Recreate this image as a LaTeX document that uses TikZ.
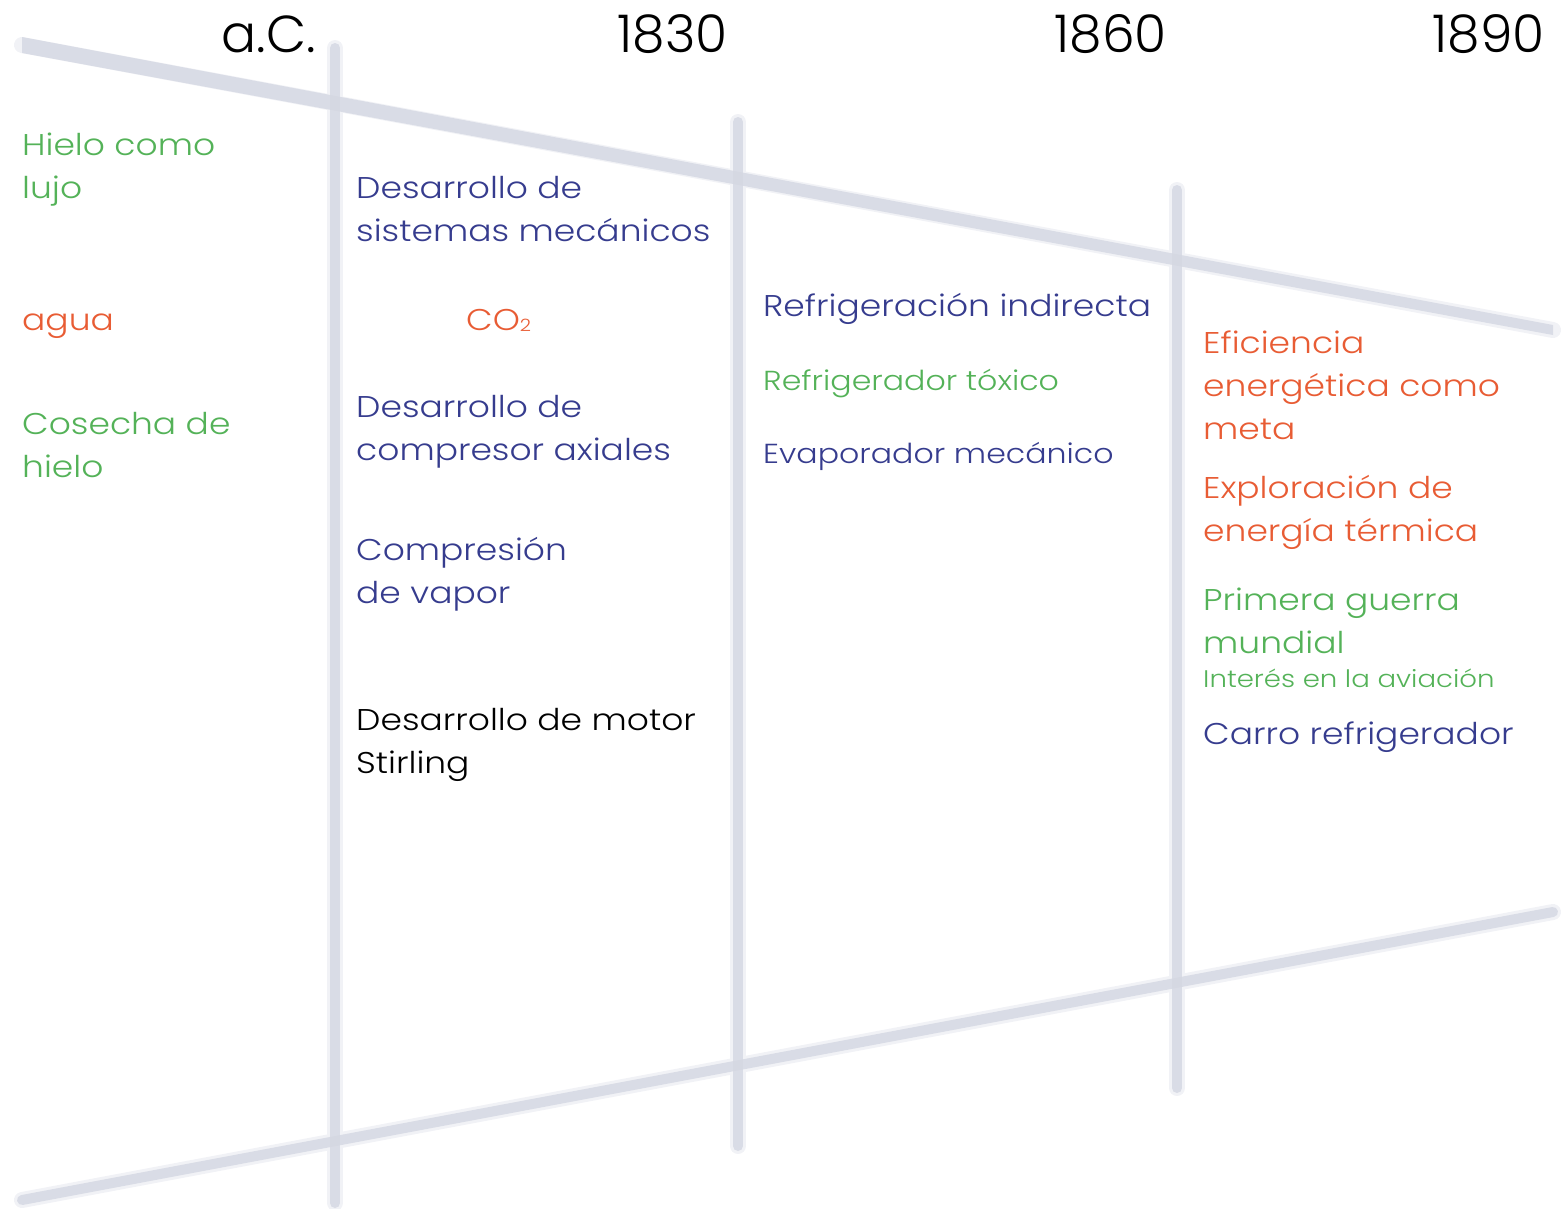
\documentclass[tikz,border=0pt]{standalone}
\usepackage{fontspec}
\setmainfont{Poppins Light}[FakeStretch=1.15]
\newfontfamily\yearfont{Poppins Light}[FakeStretch=1.0]
\definecolor{lgreen}{RGB}{84,178,88}
\definecolor{lorange}{RGB}{232,92,52}
\definecolor{lblue}{RGB}{54,60,142}
\definecolor{lbar}{RGB}{212,215,226}
\definecolor{lhalo}{RGB}{241,242,246}
\tikzset{
  bar/.style={line width=10pt, draw=lbar, opacity=0.8, line cap=round},
  halo/.style={line width=16pt, draw=lhalo, line cap=round},
  taper/.style={fill=lbar, opacity=0.8},
  year/.style={anchor=base east, inner sep=0pt, font=\yearfont\fontsize{52}{52}\selectfont},
  item/.style={anchor=base west, inner sep=0pt, align=left, font=\fontsize{30}{43}\selectfont},
  smallitem/.style={anchor=base west, inner sep=0pt, align=left, font=\fontsize{27.5}{36}\selectfont},
  tinyitem/.style={anchor=base west, inner sep=0pt, align=left, font=\fontsize{24}{30}\selectfont},
}
\begin{document}
\begin{tikzpicture}[x=1pt,y=-1pt]
\useasboundingbox (0,0) rectangle (1564,1208);
% structural lines
\coordinate (t0) at (22,45);
\coordinate (t1) at (1553,330);
\coordinate (b0) at (22,1200);
\coordinate (b1) at (1553,912);
\coordinate (v1a) at (335,48);
\coordinate (v1b) at (335,1203);
\coordinate (v2a) at (738,122);
\coordinate (v2b) at (738,1146);
\coordinate (v3a) at (1177,190);
\coordinate (v3b) at (1177,1088);
\foreach \a/\b in {t0/t1,b0/b1,v1a/v1b,v2a/v2b,v3a/v3b}{
  \draw[halo] (\a) -- (\b);
}
% top diagonal: thicker on the left, thinner on the right
\fill[taper] (22,37) -- (1553,325) -- (1553,335) -- (22,53) -- cycle;
\foreach \a/\b in {b0/b1,v1a/v1b,v2a/v2b,v3a/v3b}{
  \draw[bar] (\a) -- (\b);
}
% years
\node[year] (yac) at (316,52) {a.C.};
\node[year] (y1830) at (728,52) {1830};
\node[year] (y1860) at (1167,52) {1860};
\node[year] (y1890) at (1545,52) {1890};
% column 1 (anchor = baseline of last line)
\node[item, text=lgreen] (hielo) at (22,198) {Hielo como\\lujo};
\node[item, text=lorange] (agua) at (22,330) {agua};
\node[item, text=lgreen] (cosecha) at (22,477) {Cosecha de\\hielo};
% column 2
\node[item, text=lblue] (sistemas) at (356,241) {Desarrollo de\\sistemas mecánicos};
\node[item, text=lorange] (co2) at (466,330) {CO\raisebox{-0.1ex}{\fontsize{17}{17}\selectfont 2}};
\node[item, text=lblue] (axiales) at (356,460) {Desarrollo de\\compresor axiales};
\node[item, text=lblue] (vapor) at (356,603) {Compresión\\de vapor};
\node[item, text=black] (stirling) at (356,773) {Desarrollo de motor\\Stirling};
% column 3
\node[item, text=lblue] (indirecta) at (763,316) {Refrigeración indirecta};
\node[smallitem, text=lgreen] (toxico) at (763,390) {Refrigerador tóxico};
\node[smallitem, text=lblue] (evap) at (763,463) {Evaporador mecánico};
% column 4
\node[item, text=lorange] (efic) at (1203,439) {Eficiencia\\energética como\\meta};
\node[item, text=lorange] (explo) at (1203,541) {Exploración de\\energía térmica};
\node[item, text=lgreen] (guerra) at (1203,653) {Primera guerra\\mundial};
\node[tinyitem, text=lgreen] (aviacion) at (1203,687) {Interés en la aviación};
\node[item, text=lblue] (carro) at (1203,744) {Carro refrigerador};
\end{tikzpicture}
\end{document}
